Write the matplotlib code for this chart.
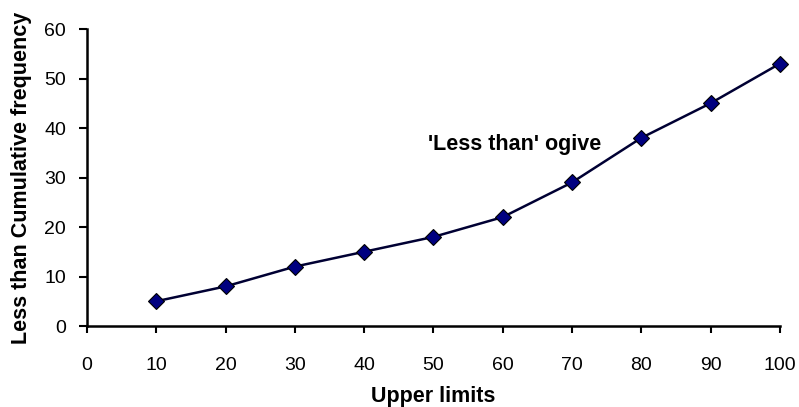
import matplotlib.pyplot as plt

plt.rcParams['font.family'] = ['Liberation Sans', 'DejaVu Sans']

# upper class limits and the 'less than' cumulative frequencies
upper_limits = [10, 20, 30, 40, 50, 60, 70, 80, 90, 100]
cum_freq = [5, 8, 12, 15, 18, 22, 29, 38, 45, 53]

x_ticks = [0, 10, 20, 30, 40, 50, 60, 70, 80, 90, 100]
y_ticks = [0, 10, 20, 30, 40, 50, 60]

fig = plt.figure(figsize=(7.99, 4.07), dpi=100)
ax = fig.add_axes([0.1089, 0.199, 0.8671, 0.7297])

ax.plot(upper_limits, cum_freq, color='#000033', linewidth=1.8,
        marker='D', markersize=8, markerfacecolor='#000080',
        markeredgecolor='black', markeredgewidth=0.8, clip_on=False, zorder=3)

ax.set_xlim(0, 100)
ax.set_ylim(0, 60)
ax.set_xticks(x_ticks)
ax.set_yticks(y_ticks)

for side in ['top', 'right']:
    ax.spines[side].set_visible(False)
for side in ['left', 'bottom']:
    ax.spines[side].set_linewidth(1.8)

ax.tick_params(axis='x', direction='out', length=5, width=1.5, pad=17, labelsize=14)
ax.tick_params(axis='y', direction='out', length=6, width=1.5, pad=9, labelsize=14)

ax.set_xlabel('Upper limits', fontsize=15.5, fontweight='bold', labelpad=9)
ax.set_ylabel('Less than Cumulative frequency', fontsize=15.5, fontweight='bold', labelpad=9)

ax.text(49.2, 36.6, "'Less than' ogive", fontsize=15.5, fontweight='bold',
        va='center', ha='left')

fig.savefig('out.png', dpi=100)
